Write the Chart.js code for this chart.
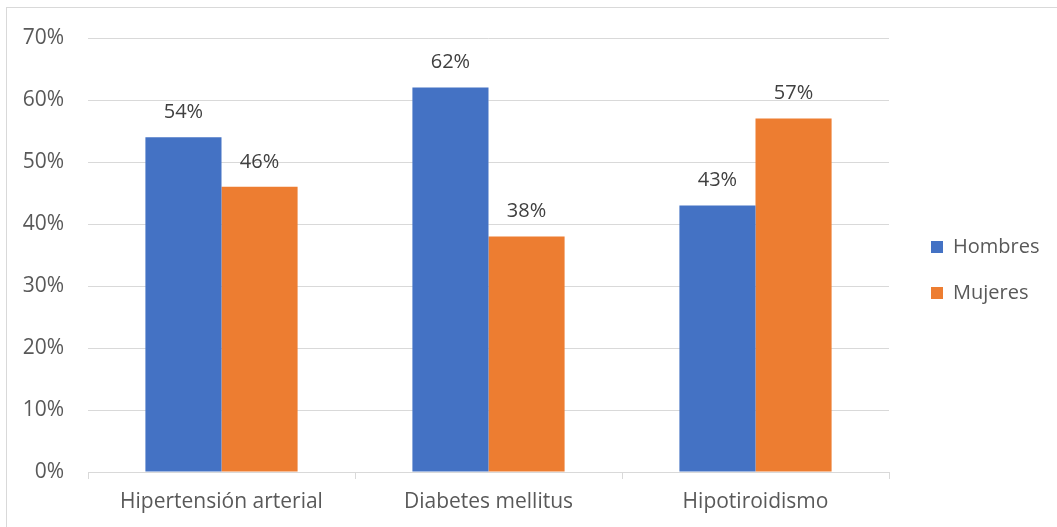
<!DOCTYPE html>
<html>
<head>
<meta charset="utf-8">
<script src="https://cdn.jsdelivr.net/npm/chart.js@4/dist/chart.umd.min.js"></script>
<style>
  html, body { margin: 0; padding: 0; background: #ffffff; }
  #wrap { width: 1057px; height: 527px; position: relative; }
</style>
</head>
<body>
<div id="wrap"><canvas id="c" width="1057" height="527"></canvas></div>
<script>
// Prevalence by sex for each condition (percent)
const categories = ['Hipertensión arterial', 'Diabetes mellitus', 'Hipotiroidismo'];
const hombres = [54, 62, 43];
const mujeres = [46, 38, 57];
const seriesNames = ['Hombres', 'Mujeres'];
const yTicks = [0, 10, 20, 30, 40, 50, 60, 70];

const FONT = "'Open Sans', 'Noto Sans', sans-serif";
const TEXT = '#595959';
const GRID = '#d9d9d9';
const LEGEND_WIDTH = 168;

// Outer frame of the chart
const framePlugin = {
  id: 'frame',
  beforeDraw(chart) {
    const ctx = chart.ctx;
    ctx.save();
    ctx.fillStyle = '#ffffff';
    ctx.fillRect(0, 0, chart.width, chart.height);
    ctx.strokeStyle = GRID;
    ctx.lineWidth = 1;
    ctx.strokeRect(6.5, 7.5, chart.width + 20, chart.height + 20);
    ctx.restore();
  }
};

// Value labels above each bar
const valueLabels = {
  id: 'valueLabels',
  afterDatasetsDraw(chart) {
    const ctx = chart.ctx;
    ctx.save();
    ctx.font = '20px ' + FONT;
    ctx.fillStyle = '#404040';
    ctx.textAlign = 'center';
    ctx.textBaseline = 'middle';
    chart.data.datasets.forEach((ds, di) => {
      chart.getDatasetMeta(di).data.forEach((bar, i) => {
        ctx.fillText(ds.data[i] + '%', bar.x, bar.y - 25);
      });
    });
    ctx.restore();
  }
};

// Fixed-width legend column, nudged into place beside the plot
const legendLayout = {
  id: 'legendLayout',
  beforeLayout(chart) {
    const lg = chart.legend;
    if (lg && !lg._fixedFit) {
      const fit = lg.fit;
      lg.fit = function () {
        fit.call(this);
        this.width = LEGEND_WIDTH;
      };
      lg._fixedFit = true;
    }
  },
  afterLayout(chart) {
    const lg = chart.legend;
    lg.left += 16; lg.right += 16;
    lg.top -= 12.5; lg.bottom -= 12.5;
  }
};

new Chart(document.getElementById('c'), {
  type: 'bar',
  data: {
    labels: categories,
    datasets: [
      { label: seriesNames[0], data: hombres, backgroundColor: '#4472C4' },
      { label: seriesNames[1], data: mujeres, backgroundColor: '#ED7D31' }
    ]
  },
  options: {
    responsive: false,
    animation: false,
    devicePixelRatio: 1,
    layout: { padding: { top: 38, left: 0, right: 0, bottom: 0 } },
    datasets: { bar: { categoryPercentage: 0.57, barPercentage: 1.0 } },
    scales: {
      x: {
        offset: true,
        grid: { offset: true, drawOnChartArea: false, color: GRID, tickLength: 7 },
        border: { color: GRID },
        ticks: { color: TEXT, font: { family: FONT, size: 21 }, padding: 10 },
        afterFit(scale) { scale.height = 55; }
      },
      y: {
        min: 0, max: 70,
        afterBuildTicks(scale) { scale.ticks = yTicks.map(v => ({ value: v })); },
        grid: { color: GRID, drawTicks: false },
        border: { display: false },
        ticks: {
          color: TEXT, font: { family: FONT, size: 21 }, padding: 24,
          callback: v => v + '%'
        },
        afterFit(scale) { scale.width = 88; }
      }
    },
    plugins: {
      legend: {
        position: 'right',
        labels: {
          color: TEXT,
          font: { family: FONT, size: 20 },
          boxWidth: 12, boxHeight: 12,
          padding: 26
        }
      },
      tooltip: { enabled: false }
    }
  },
  plugins: [framePlugin, valueLabels, legendLayout]
});
</script>
</body>
</html>
